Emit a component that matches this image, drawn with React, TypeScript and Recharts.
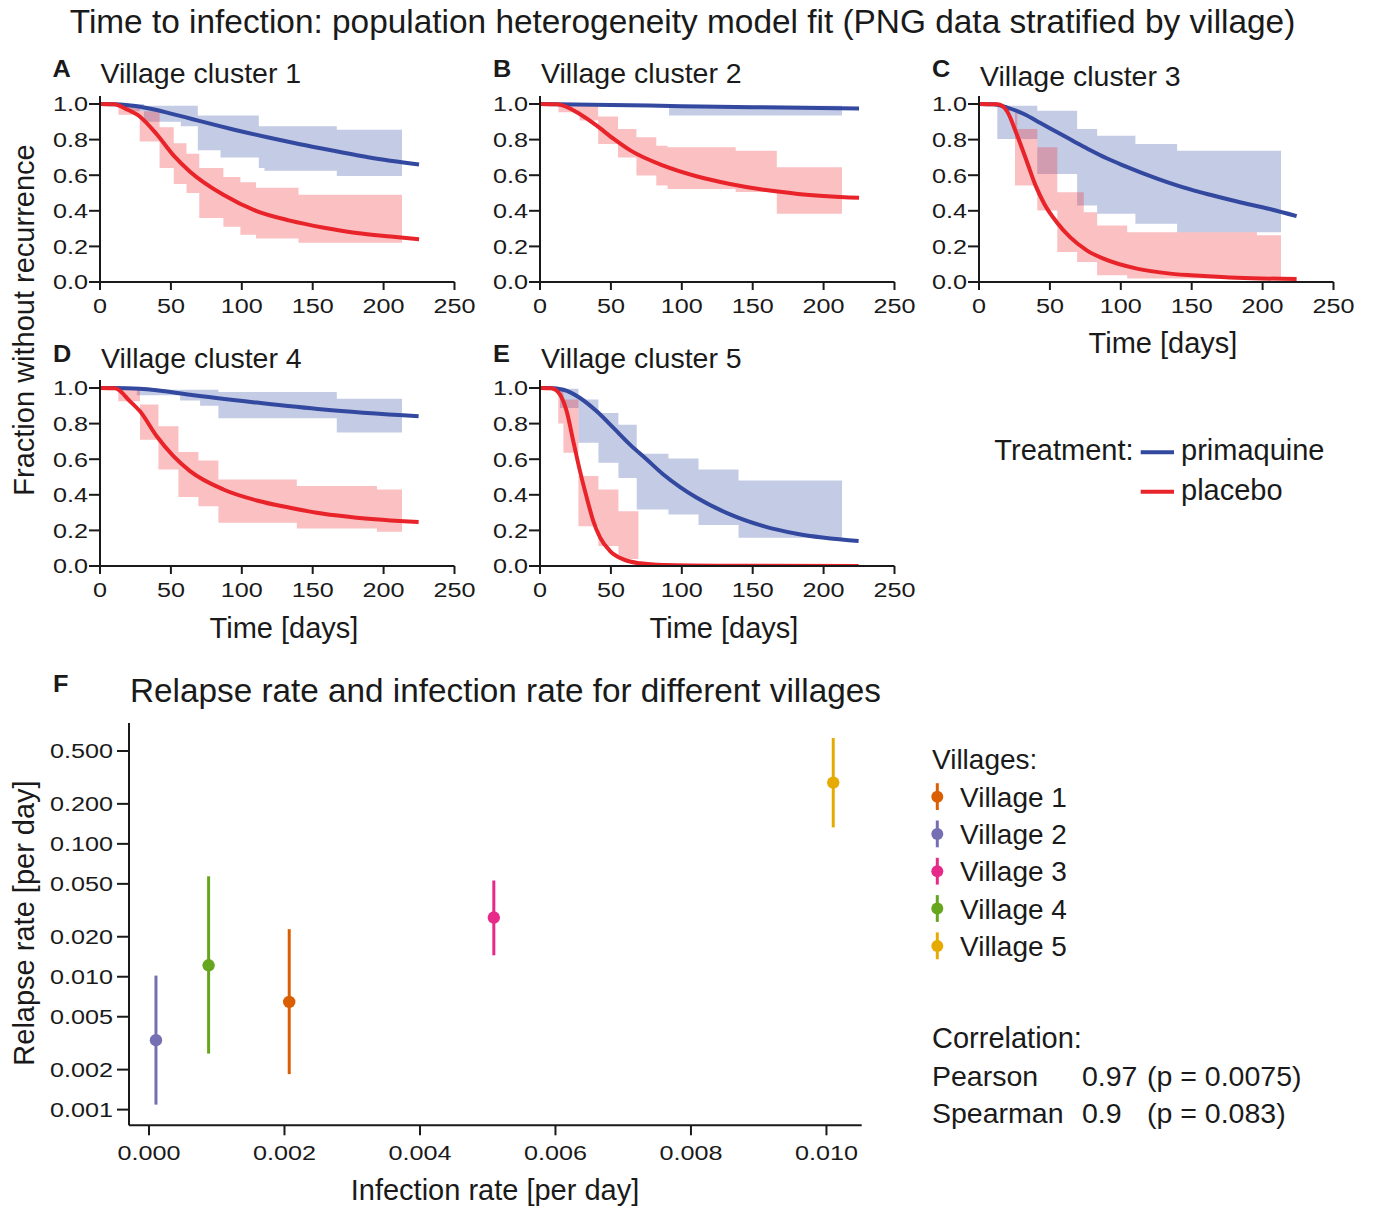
import React from "react";
import {
  Area,
  ComposedChart,
  ErrorBar,
  Line,
  Scatter,
  ScatterChart,
  XAxis,
  YAxis,
} from "recharts";

// ---- survival panels: step bands [day, lower, upper] and fitted curves [day, fraction]

const DAY_TICKS = [0, 50, 100, 150, 200, 250];
const FRACTION_TICKS = [0, 0.2, 0.4, 0.6, 0.8, 1.0];

const bandA_pq = [
  [17, 0.96, 1.0], [31, 0.9, 0.99], [57, 0.875, 0.99], [69, 0.74, 0.935], [85, 0.7, 0.935],
  [112, 0.64, 0.875], [116, 0.625, 0.875], [167, 0.595, 0.855], [213, 0.595, 0.855],
];
const bandA_pl = [
  [13, 0.94, 0.99], [28, 0.79, 0.96], [42, 0.64, 0.87], [52, 0.55, 0.78], [61, 0.5, 0.72],
  [70, 0.36, 0.64], [87, 0.31, 0.59], [99, 0.265, 0.56], [110, 0.245, 0.53], [140, 0.22, 0.49],
  [213, 0.22, 0.49],
];
const curveA_pq = [
  [0, 1], [10, 0.999], [20, 0.993], [30, 0.982], [40, 0.966], [50, 0.946], [60, 0.926],
  [70, 0.905], [94, 0.857], [118, 0.813], [141, 0.774], [165, 0.737], [190, 0.7], [225, 0.66],
];
const curveA_pl = [
  [0, 1], [10, 0.998], [19, 0.97], [28, 0.93], [40, 0.83], [52, 0.71], [63.5, 0.62],
  [87, 0.49], [110, 0.4], [134, 0.345], [158, 0.305], [181, 0.275], [205, 0.255], [225, 0.24],
];

const bandB_pq = [[0, 0.995, 1.0], [91, 0.935, 0.99], [213, 0.935, 0.99]];
const bandB_pl = [
  [13, 0.953, 0.996], [28, 0.907, 0.99], [41, 0.776, 0.93], [55, 0.7, 0.86], [68, 0.598, 0.813],
  [82, 0.542, 0.766], [90, 0.523, 0.757], [138, 0.505, 0.738], [167, 0.383, 0.645],
  [213, 0.383, 0.645],
];
const curveB_pq = [[0, 1], [50, 0.995], [100, 0.988], [150, 0.982], [225, 0.975]];
const curveB_pl = [
  [0, 1], [12, 0.998], [28, 0.944], [40, 0.878], [52, 0.804], [64, 0.738], [87, 0.654],
  [111, 0.593], [134, 0.551], [158, 0.518], [182, 0.495], [225, 0.473],
];

const bandC_pq = [
  [12.9, 0.804, 0.99], [41.1, 0.607, 0.962], [69.2, 0.43, 0.86], [83.3, 0.383, 0.822],
  [110.3, 0.327, 0.776], [139.7, 0.28, 0.738], [213, 0.28, 0.738],
];
const bandC_pl = [
  [25.4, 0.542, 0.953], [27, 0.542, 0.86], [41.1, 0.402, 0.757], [55.2, 0.168, 0.504],
  [69.2, 0.112, 0.504], [73.9, 0.112, 0.392], [83.3, 0.038, 0.318], [104.5, 0.019, 0.28],
  [196, 0.019, 0.262], [213, 0.019, 0.262],
];
const curveC_pq = [
  [0, 1], [10, 0.998], [20, 0.98], [31.7, 0.944], [43, 0.895], [55.2, 0.841], [67, 0.79],
  [78.6, 0.74], [90, 0.695], [102, 0.654], [125.6, 0.581], [149, 0.52], [163, 0.49],
  [182, 0.452], [205, 0.41], [224, 0.37],
];
const curveC_pl = [
  [0, 1], [13, 0.998], [19.5, 0.963], [26.6, 0.83], [33.6, 0.68], [40, 0.54], [46, 0.44],
  [54.8, 0.336], [64.2, 0.252], [76, 0.178], [87.8, 0.131], [111.3, 0.075], [134.8, 0.047],
  [158.4, 0.034], [181.9, 0.024], [224, 0.017],
];

const bandD_pq = [
  [26, 0.96, 0.99], [56.5, 0.93, 0.99], [70.6, 0.9, 0.99], [83.5, 0.83, 0.978],
  [167, 0.75, 0.94], [213, 0.75, 0.94],
];
const bandD_pl = [
  [12.9, 0.925, 0.99], [28.2, 0.71, 0.907], [41.2, 0.542, 0.785], [55.3, 0.387, 0.64],
  [69.4, 0.336, 0.593], [83.5, 0.243, 0.486], [138.8, 0.211, 0.449], [195.3, 0.193, 0.43],
  [213, 0.193, 0.43],
];
const curveD_pq = [
  [0, 1], [10, 1], [28, 0.996], [40, 0.988], [63.5, 0.962], [110.6, 0.918], [157.6, 0.879],
  [224.7, 0.841],
];
const curveD_pl = [
  [0, 1], [10.6, 0.998], [21.2, 0.925], [28.2, 0.869], [40, 0.729], [51.8, 0.617],
  [63.5, 0.533], [87, 0.43], [110.6, 0.368], [134, 0.327], [157.6, 0.293], [181, 0.271],
  [224.7, 0.247],
];

const bandE_pq = [
  [14.1, 0.888, 0.996], [27.1, 0.692, 0.935], [41.2, 0.58, 0.86], [55.3, 0.495, 0.794],
  [68.2, 0.318, 0.63], [90.6, 0.29, 0.604], [111.8, 0.23, 0.542], [140, 0.159, 0.48],
  [213, 0.159, 0.48],
];
const bandE_pl = [
  [12.9, 0.8, 0.996], [16.5, 0.636, 0.935], [27.1, 0.224, 0.505], [41.2, 0.112, 0.43],
  [55.3, 0.04, 0.308], [69.4, 0.04, 0.308],
];
const curveE_pq = [
  [0, 1], [7, 1], [16.5, 0.99], [28.2, 0.944], [40, 0.869], [51.8, 0.776], [63.5, 0.682],
  [75.3, 0.598], [87, 0.514], [98.8, 0.443], [110.6, 0.383], [134, 0.29], [157.6, 0.224],
  [181, 0.181], [224.7, 0.14],
];
const curveE_pl = [
  [0, 1], [8, 0.998], [14.1, 0.963], [18.8, 0.869], [23.5, 0.7], [28.2, 0.533], [33, 0.383],
  [37.6, 0.252], [42.4, 0.159], [49.4, 0.084], [58.8, 0.037], [70.6, 0.015], [87, 0.006],
  [134, 0.002], [224.7, 0],
];

// ---- panel F

const VILLAGES = ["Village 1", "Village 2", "Village 3", "Village 4", "Village 5"];
const INFECTION_RATE = [0.00207, 0.000103, 0.00509, 0.00088, 0.0101];
const RELAPSE_RATE = [0.00646, 0.00333, 0.0279, 0.0122, 0.289];
const RELAPSE_LO = [0.00185, 0.00109, 0.0145, 0.00264, 0.133];
const RELAPSE_HI = [0.0228, 0.0102, 0.053, 0.057, 0.626];
const RATE_TICKS = [0, 0.002, 0.004, 0.006, 0.008, 0.01];
const RELAPSE_TICKS = [0.001, 0.002, 0.005, 0.01, 0.02, 0.05, 0.1, 0.2, 0.5];

const VILLAGE_COLORS = ["#d95f02", "#7570b3", "#e7298a", "#66a61e", "#e6ab02"];
const BLUE = "#33489f";
const RED = "#e8232a";
const INK = "#1a1a1a";
const FONT = "'Liberation Sans', Arial, Helvetica, sans-serif";

const PLOT_W = 354.5;
const UNIT = 178; // px per 1.0 of fraction
const Y_TOP = 1.045;
const PLOT_H = UNIT * Y_TOP;

function TickX({ x, y, payload, fmt }: any) {
  return (
    <g transform={`translate(${x},${y})`}>
      <text textAnchor="middle" dy="0.71em" fontSize={21} fill={INK} fontFamily={FONT} transform="scale(1.2,1)">
        {fmt(payload.value)}
      </text>
    </g>
  );
}

function TickY({ x, y, payload, fmt }: any) {
  return (
    <g transform={`translate(${x},${y})`}>
      <text textAnchor="end" dy="0.355em" fontSize={21} fill={INK} fontFamily={FONT} transform="scale(1.2,1)">
        {fmt(payload.value)}
      </text>
    </g>
  );
}

const bandRows = (b: number[][]) => b.map(([t, lo, hi]) => ({ t, r: [lo, hi] }));
const curveRows = (c: number[][]) => c.map(([t, s]) => ({ t, s }));

function SurvPanel({ left, bottom, pqBand, plBand, pqCurve, plCurve }: any) {
  const YW = 50;
  const MT = 10;
  const MR = 30;
  const XH = 45;
  const axis = { stroke: INK, strokeWidth: 2 };
  return (
    <div style={{ position: "absolute", left: left - YW, top: bottom - PLOT_H - MT }}>
      <ComposedChart
        width={YW + PLOT_W + MR}
        height={MT + PLOT_H + XH}
        margin={{ top: MT, right: MR, bottom: 0, left: 0 }}
      >
        <XAxis
          type="number"
          dataKey="t"
          domain={[0, 250]}
          ticks={DAY_TICKS}
          allowDataOverflow
          height={XH}
          axisLine={axis}
          tickLine={axis}
          tickSize={8}
          tickMargin={8}
          tick={(p: any) => <TickX x={p.x} y={p.y} payload={p.payload} fmt={(v: number) => String(v)} />}
        />
        <YAxis
          type="number"
          domain={[0, Y_TOP]}
          ticks={FRACTION_TICKS}
          allowDataOverflow
          width={YW}
          axisLine={axis}
          tickLine={axis}
          tickSize={11}
          tickMargin={1}
          tick={(p: any) => <TickY x={p.x} y={p.y} payload={p.payload} fmt={(v: number) => v.toFixed(1)} />}
        />
        <Area
          data={bandRows(pqBand)}
          dataKey="r"
          type="stepAfter"
          stroke="none"
          fill="#3d52a8"
          fillOpacity={0.3}
          dot={false}
          activeDot={false}
          isAnimationActive={false}
        />
        <Area
          data={bandRows(plBand)}
          dataKey="r"
          type="stepAfter"
          stroke="none"
          fill="#ef3036"
          fillOpacity={0.3}
          dot={false}
          activeDot={false}
          isAnimationActive={false}
        />
        <Line
          data={curveRows(pqCurve)}
          dataKey="s"
          type="monotone"
          stroke={BLUE}
          strokeWidth={4}
          dot={false}
          activeDot={false}
          isAnimationActive={false}
        />
        <Line
          data={curveRows(plCurve)}
          dataKey="s"
          type="monotone"
          stroke={RED}
          strokeWidth={4}
          dot={false}
          activeDot={false}
          isAnimationActive={false}
        />
      </ComposedChart>
    </div>
  );
}

const PANELS = [
  { key: "A", title: "Village cluster 1", left: 99.5, bottom: 282, pqBand: bandA_pq, plBand: bandA_pl, pqCurve: curveA_pq, plCurve: curveA_pl, xlab: false, dy: 0 },
  { key: "B", title: "Village cluster 2", left: 540, bottom: 282, pqBand: bandB_pq, plBand: bandB_pl, pqCurve: curveB_pq, plCurve: curveB_pl, xlab: false, dy: 0 },
  { key: "C", title: "Village cluster 3", left: 979, bottom: 282, pqBand: bandC_pq, plBand: bandC_pl, pqCurve: curveC_pq, plCurve: curveC_pl, xlab: true, dy: 3 },
  { key: "D", title: "Village cluster 4", left: 100, bottom: 566.5, pqBand: bandD_pq, plBand: bandD_pl, pqCurve: curveD_pq, plCurve: curveD_pl, xlab: true, dy: 0 },
  { key: "E", title: "Village cluster 5", left: 540, bottom: 566.5, pqBand: bandE_pq, plBand: bandE_pl, pqCurve: curveE_pq, plCurve: curveE_pl, xlab: true, dy: 0 },
];

const F_LEFT = 129;
const F_TOP = 722.7;
const F_W = 732.7;
const F_H = 402.3;

function Dot({ cx, cy, fill }: any) {
  if (cx == null || cy == null) return null;
  return <circle cx={cx} cy={cy} r={6.2} fill={fill} />;
}

function RatePanel() {
  const YW = 80;
  const MT = 10;
  const MR = 30;
  const XH = 50;
  const axis = { stroke: INK, strokeWidth: 2 };
  return (
    <div style={{ position: "absolute", left: F_LEFT - YW, top: F_TOP - MT }}>
      <ScatterChart width={YW + F_W + MR} height={MT + F_H + XH} margin={{ top: MT, right: MR, bottom: 0, left: 0 }}>
        <XAxis
          type="number"
          dataKey="x"
          domain={[-0.000295, 0.01052]}
          ticks={RATE_TICKS}
          allowDataOverflow
          height={XH}
          axisLine={axis}
          tickLine={axis}
          tickSize={10}
          tickMargin={10}
          tick={(p: any) => <TickX x={p.x} y={p.y} payload={p.payload} fmt={(v: number) => v.toFixed(3)} />}
        />
        <YAxis
          type="number"
          dataKey="y"
          scale="log"
          domain={[0.000762, 0.812]}
          ticks={RELAPSE_TICKS}
          allowDataOverflow
          width={YW}
          axisLine={axis}
          tickLine={axis}
          tickSize={12}
          tickMargin={4}
          tick={(p: any) => <TickY x={p.x} y={p.y} payload={p.payload} fmt={(v: number) => v.toFixed(3)} />}
        />
        {VILLAGES.map((name, i) => (
          <Scatter
            key={name}
            name={name}
            data={[
              {
                x: INFECTION_RATE[i],
                y: RELAPSE_RATE[i],
                err: [RELAPSE_RATE[i] - RELAPSE_LO[i], RELAPSE_HI[i] - RELAPSE_RATE[i]],
              },
            ]}
            fill={VILLAGE_COLORS[i]}
            shape={(p: any) => <Dot cx={p.cx} cy={p.cy} fill={VILLAGE_COLORS[i]} />}
            isAnimationActive={false}
          >
            <ErrorBar dataKey="err" direction="y" width={0} stroke={VILLAGE_COLORS[i]} strokeWidth={3} />
          </Scatter>
        ))}
      </ScatterChart>
    </div>
  );
}

function Txt({ x, y, size = 28, anchor = "start", weight = "normal", sx = 1, rotate = 0, children }: any) {
  return (
    <g transform={`translate(${x},${y}) rotate(${rotate}) scale(${sx},1)`}>
      <text textAnchor={anchor} fontSize={size} fontWeight={weight} fill={INK} fontFamily={FONT}>
        {children}
      </text>
    </g>
  );
}

export default function App() {
  return (
    <div style={{ position: "absolute", left: 0, top: 0, width: 1375, height: 1208, background: "#fff", overflow: "hidden" }}>
      {PANELS.map((p) => (
        <SurvPanel key={p.key} {...p} />
      ))}
      <RatePanel />
      <svg width={1375} height={1208} style={{ position: "absolute", left: 0, top: 0, pointerEvents: "none" }}>
        <Txt x={682.5} y={32.5} size={33.4} anchor="middle">
          Time to infection: population heterogeneity model fit (PNG data stratified by village)
        </Txt>
        {PANELS.map((p) => {
          const y1 = p.bottom - UNIT;
          return (
            <g key={p.key}>
              <Txt x={p.left - 47} y={y1 - 26.7} size={23} weight="bold" sx={1.1}>
                {p.key}
              </Txt>
              <Txt x={p.left + 1} y={y1 - 21 + p.dy} size={28.5}>
                {p.title}
              </Txt>
              {p.xlab && (
                <Txt x={p.left + 184} y={p.bottom + 71} size={29} anchor="middle">
                  Time [days]
                </Txt>
              )}
            </g>
          );
        })}
        <Txt x={34} y={320} size={29} anchor="middle" rotate={-90}>
          Fraction without recurrence
        </Txt>

        <Txt x={1133.5} y={460} size={29} anchor="end">
          Treatment:
        </Txt>
        <line x1={1140.7} x2={1174} y1={452.3} y2={452.3} stroke={BLUE} strokeWidth={4} />
        <Txt x={1181} y={460} size={29}>primaquine</Txt>
        <line x1={1140.7} x2={1174} y1={491.7} y2={491.7} stroke={RED} strokeWidth={4} />
        <Txt x={1181} y={500} size={29}>placebo</Txt>

        <Txt x={53} y={692} size={23} weight="bold" sx={1.1}>
          F
        </Txt>
        <Txt x={130} y={702} size={33.3}>
          Relapse rate and infection rate for different villages
        </Txt>
        <Txt x={34} y={923} size={29} anchor="middle" rotate={-90}>
          Relapse rate [per day]
        </Txt>
        <Txt x={495} y={1200} size={29} anchor="middle">
          Infection rate [per day]
        </Txt>

        <Txt x={932} y={769.3}>Villages:</Txt>
        {VILLAGES.map((name, i) => {
          const by = 806.7 + 37.3 * i;
          return (
            <g key={name}>
              <line x1={937.3} x2={937.3} y1={by - 23.5} y2={by + 3.3} stroke={VILLAGE_COLORS[i]} strokeWidth={3} />
              <circle cx={937.3} cy={by - 10} r={6} fill={VILLAGE_COLORS[i]} />
              <Txt x={960} y={by}>{name}</Txt>
            </g>
          );
        })}

        <Txt x={932} y={1048.3} size={29}>Correlation:</Txt>
        <Txt x={932} y={1086} size={28.5}>Pearson</Txt>
        <Txt x={1082} y={1086} size={28.5}>0.97</Txt>
        <Txt x={1147} y={1086} size={28.5}>(p = 0.0075)</Txt>
        <Txt x={932} y={1123.3} size={28.5}>Spearman</Txt>
        <Txt x={1082} y={1123.3} size={28.5}>0.9</Txt>
        <Txt x={1147} y={1123.3} size={28.5}>(p = 0.083)</Txt>
      </svg>
    </div>
  );
}
